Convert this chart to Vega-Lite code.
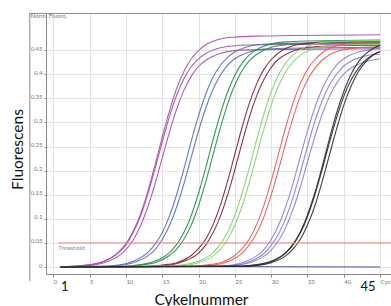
{
"$schema": "https://vega.github.io/schema/vega-lite/v6.json",
"width": 345, "height": 261,
"autosize": {"type": "none"},
"padding": {"left": 46, "top": 13, "right": 0, "bottom": 32},
"background": "white",
"config": {"view": {"stroke": null}, "font": "Lato",
 "axisX": {"labelOverlap": false, "labelBound": false, "labelFlush": false, "labelAlign": "left", "labelFontSize": 6, "labelColor": "#777", "labelPadding": 1, "tickSize": 3, "tickColor": "#888", "domainColor": "#8a8a8a", "grid": true, "gridColor": "#e3e3e3", "titleFontSize": 15.5, "titleFontWeight": "normal", "titleColor": "#111", "titleFont": "Lato", "titleX": 155, "titleY": 30, "titleBaseline": "alphabetic", "titleAlign": "center"},
 "axisY": {"labelOverlap": false, "labelBound": false, "labelFlush": false, "labelFontSize": 6, "labelColor": "#777", "labelBaseline": "alphabetic", "labelPadding": 2, "tickSize": 2, "tickColor": "#888", "domainColor": "#8a8a8a", "grid": true, "gridColor": "#e3e3e3", "titleFontSize": 15.5, "titleFontWeight": "normal", "titleColor": "#111", "titleFont": "Lato", "titleX": -23.5, "titleY": 136, "titleAngle": 270, "titleBaseline": "alphabetic", "titleAlign": "center"}},
"data": {"values": [
{"s":"n","g":"n","c":1,"v":0.001},{"s":"n","g":"n","c":20,"v":0.001},{"s":"n","g":"n","c":45,"v":0.0},
{"s":"p1","g":"p","c":1,"v":0},{"s":"p1","g":"p","c":3,"v":0.002},{"s":"p1","g":"p","c":5,"v":0.005},{"s":"p1","g":"p","c":7,"v":0.012},{"s":"p1","g":"p","c":9,"v":0.031},{"s":"p1","g":"p","c":10,"v":0.048},{"s":"p1","g":"p","c":11,"v":0.074},{"s":"p1","g":"p","c":12,"v":0.109},{"s":"p1","g":"p","c":13,"v":0.156},{"s":"p1","g":"p","c":14,"v":0.211},{"s":"p1","g":"p","c":15,"v":0.269},{"s":"p1","g":"p","c":16,"v":0.324},{"s":"p1","g":"p","c":17,"v":0.371},{"s":"p1","g":"p","c":18,"v":0.406},{"s":"p1","g":"p","c":19,"v":0.432},{"s":"p1","g":"p","c":20,"v":0.449},{"s":"p1","g":"p","c":21,"v":0.461},{"s":"p1","g":"p","c":23,"v":0.473},{"s":"p1","g":"p","c":25,"v":0.477},{"s":"p1","g":"p","c":28,"v":0.479},{"s":"p1","g":"p","c":45,"v":0.482},
{"s":"p2","g":"p","c":1,"v":0},{"s":"p2","g":"p","c":3,"v":0.002},{"s":"p2","g":"p","c":5,"v":0.004},{"s":"p2","g":"p","c":7,"v":0.012},{"s":"p2","g":"p","c":9,"v":0.030},{"s":"p2","g":"p","c":10,"v":0.046},{"s":"p2","g":"p","c":11,"v":0.071},{"s":"p2","g":"p","c":12,"v":0.105},{"s":"p2","g":"p","c":13,"v":0.150},{"s":"p2","g":"p","c":14,"v":0.203},{"s":"p2","g":"p","c":15,"v":0.259},{"s":"p2","g":"p","c":16,"v":0.312},{"s":"p2","g":"p","c":17,"v":0.357},{"s":"p2","g":"p","c":18,"v":0.391},{"s":"p2","g":"p","c":19,"v":0.416},{"s":"p2","g":"p","c":20,"v":0.432},{"s":"p2","g":"p","c":21,"v":0.443},{"s":"p2","g":"p","c":23,"v":0.455},{"s":"p2","g":"p","c":25,"v":0.459},{"s":"p2","g":"p","c":28,"v":0.461},{"s":"p2","g":"p","c":45,"v":0.463},
{"s":"p3","g":"p","c":1,"v":0},{"s":"p3","g":"p","c":3,"v":0.001},{"s":"p3","g":"p","c":5,"v":0.003},{"s":"p3","g":"p","c":7,"v":0.009},{"s":"p3","g":"p","c":9,"v":0.023},{"s":"p3","g":"p","c":10,"v":0.036},{"s":"p3","g":"p","c":11,"v":0.056},{"s":"p3","g":"p","c":12,"v":0.085},{"s":"p3","g":"p","c":13,"v":0.124},{"s":"p3","g":"p","c":14,"v":0.172},{"s":"p3","g":"p","c":15,"v":0.226},{"s":"p3","g":"p","c":16,"v":0.280},{"s":"p3","g":"p","c":17,"v":0.328},{"s":"p3","g":"p","c":18,"v":0.367},{"s":"p3","g":"p","c":19,"v":0.396},{"s":"p3","g":"p","c":20,"v":0.416},{"s":"p3","g":"p","c":21,"v":0.429},{"s":"p3","g":"p","c":23,"v":0.443},{"s":"p3","g":"p","c":25,"v":0.449},{"s":"p3","g":"p","c":28,"v":0.451},{"s":"p3","g":"p","c":45,"v":0.453},
{"s":"b1","g":"b","c":1,"v":0},{"s":"b1","g":"b","c":7,"v":0.002},{"s":"b1","g":"b","c":9,"v":0.004},{"s":"b1","g":"b","c":11,"v":0.012},{"s":"b1","g":"b","c":13,"v":0.030},{"s":"b1","g":"b","c":14,"v":0.047},{"s":"b1","g":"b","c":15,"v":0.071},{"s":"b1","g":"b","c":16,"v":0.106},{"s":"b1","g":"b","c":17,"v":0.151},{"s":"b1","g":"b","c":18,"v":0.204},{"s":"b1","g":"b","c":19,"v":0.261},{"s":"b1","g":"b","c":20,"v":0.314},{"s":"b1","g":"b","c":21,"v":0.359},{"s":"b1","g":"b","c":22,"v":0.394},{"s":"b1","g":"b","c":23,"v":0.418},{"s":"b1","g":"b","c":24,"v":0.435},{"s":"b1","g":"b","c":25,"v":0.446},{"s":"b1","g":"b","c":27,"v":0.458},{"s":"b1","g":"b","c":29,"v":0.462},{"s":"b1","g":"b","c":32,"v":0.464},{"s":"b1","g":"b","c":45,"v":0.466},
{"s":"b2","g":"b","c":1,"v":0},{"s":"b2","g":"b","c":7,"v":0.001},{"s":"b2","g":"b","c":9,"v":0.003},{"s":"b2","g":"b","c":11,"v":0.009},{"s":"b2","g":"b","c":13,"v":0.023},{"s":"b2","g":"b","c":14,"v":0.036},{"s":"b2","g":"b","c":15,"v":0.057},{"s":"b2","g":"b","c":16,"v":0.086},{"s":"b2","g":"b","c":17,"v":0.125},{"s":"b2","g":"b","c":18,"v":0.173},{"s":"b2","g":"b","c":19,"v":0.228},{"s":"b2","g":"b","c":20,"v":0.282},{"s":"b2","g":"b","c":21,"v":0.330},{"s":"b2","g":"b","c":22,"v":0.369},{"s":"b2","g":"b","c":23,"v":0.398},{"s":"b2","g":"b","c":24,"v":0.419},{"s":"b2","g":"b","c":25,"v":0.432},{"s":"b2","g":"b","c":27,"v":0.446},{"s":"b2","g":"b","c":29,"v":0.452},{"s":"b2","g":"b","c":32,"v":0.454},{"s":"b2","g":"b","c":45,"v":0.456},
{"s":"g1","g":"g","c":1,"v":0},{"s":"g1","g":"g","c":10,"v":0.002},{"s":"g1","g":"g","c":12,"v":0.005},{"s":"g1","g":"g","c":14,"v":0.012},{"s":"g1","g":"g","c":16,"v":0.030},{"s":"g1","g":"g","c":17,"v":0.047},{"s":"g1","g":"g","c":18,"v":0.072},{"s":"g1","g":"g","c":19,"v":0.107},{"s":"g1","g":"g","c":20,"v":0.153},{"s":"g1","g":"g","c":21,"v":0.206},{"s":"g1","g":"g","c":22,"v":0.264},{"s":"g1","g":"g","c":23,"v":0.317},{"s":"g1","g":"g","c":24,"v":0.363},{"s":"g1","g":"g","c":25,"v":0.398},{"s":"g1","g":"g","c":26,"v":0.423},{"s":"g1","g":"g","c":27,"v":0.440},{"s":"g1","g":"g","c":28,"v":0.451},{"s":"g1","g":"g","c":30,"v":0.463},{"s":"g1","g":"g","c":32,"v":0.467},{"s":"g1","g":"g","c":35,"v":0.469},{"s":"g1","g":"g","c":45,"v":0.471},
{"s":"g2","g":"g","c":1,"v":0},{"s":"g2","g":"g","c":10,"v":0.001},{"s":"g2","g":"g","c":12,"v":0.004},{"s":"g2","g":"g","c":14,"v":0.009},{"s":"g2","g":"g","c":16,"v":0.024},{"s":"g2","g":"g","c":17,"v":0.037},{"s":"g2","g":"g","c":18,"v":0.058},{"s":"g2","g":"g","c":19,"v":0.087},{"s":"g2","g":"g","c":20,"v":0.127},{"s":"g2","g":"g","c":21,"v":0.177},{"s":"g2","g":"g","c":22,"v":0.233},{"s":"g2","g":"g","c":23,"v":0.288},{"s":"g2","g":"g","c":24,"v":0.338},{"s":"g2","g":"g","c":25,"v":0.378},{"s":"g2","g":"g","c":26,"v":0.407},{"s":"g2","g":"g","c":27,"v":0.428},{"s":"g2","g":"g","c":28,"v":0.441},{"s":"g2","g":"g","c":30,"v":0.456},{"s":"g2","g":"g","c":32,"v":0.461},{"s":"g2","g":"g","c":35,"v":0.464},{"s":"g2","g":"g","c":45,"v":0.465},
{"s":"r1","g":"r","c":1,"v":0},{"s":"r1","g":"r","c":13,"v":0.001},{"s":"r1","g":"r","c":15,"v":0.004},{"s":"r1","g":"r","c":17,"v":0.009},{"s":"r1","g":"r","c":19,"v":0.024},{"s":"r1","g":"r","c":20,"v":0.038},{"s":"r1","g":"r","c":21,"v":0.058},{"s":"r1","g":"r","c":22,"v":0.088},{"s":"r1","g":"r","c":23,"v":0.128},{"s":"r1","g":"r","c":24,"v":0.178},{"s":"r1","g":"r","c":25,"v":0.234},{"s":"r1","g":"r","c":26,"v":0.290},{"s":"r1","g":"r","c":27,"v":0.340},{"s":"r1","g":"r","c":28,"v":0.380},{"s":"r1","g":"r","c":29,"v":0.410},{"s":"r1","g":"r","c":30,"v":0.430},{"s":"r1","g":"r","c":31,"v":0.444},{"s":"r1","g":"r","c":33,"v":0.459},{"s":"r1","g":"r","c":35,"v":0.464},{"s":"r1","g":"r","c":38,"v":0.467},{"s":"r1","g":"r","c":45,"v":0.468},
{"s":"r2","g":"r","c":1,"v":0},{"s":"r2","g":"r","c":14,"v":0.002},{"s":"r2","g":"r","c":16,"v":0.004},{"s":"r2","g":"r","c":18,"v":0.012},{"s":"r2","g":"r","c":20,"v":0.029},{"s":"r2","g":"r","c":21,"v":0.046},{"s":"r2","g":"r","c":22,"v":0.071},{"s":"r2","g":"r","c":23,"v":0.105},{"s":"r2","g":"r","c":24,"v":0.149},{"s":"r2","g":"r","c":25,"v":0.202},{"s":"r2","g":"r","c":26,"v":0.258},{"s":"r2","g":"r","c":27,"v":0.311},{"s":"r2","g":"r","c":28,"v":0.355},{"s":"r2","g":"r","c":29,"v":0.389},{"s":"r2","g":"r","c":30,"v":0.414},{"s":"r2","g":"r","c":31,"v":0.431},{"s":"r2","g":"r","c":32,"v":0.441},{"s":"r2","g":"r","c":34,"v":0.453},{"s":"r2","g":"r","c":36,"v":0.457},{"s":"r2","g":"r","c":39,"v":0.459},{"s":"r2","g":"r","c":45,"v":0.460},
{"s":"l1","g":"l","c":1,"v":0},{"s":"l1","g":"l","c":16,"v":0.002},{"s":"l1","g":"l","c":18,"v":0.005},{"s":"l1","g":"l","c":20,"v":0.012},{"s":"l1","g":"l","c":22,"v":0.030},{"s":"l1","g":"l","c":23,"v":0.047},{"s":"l1","g":"l","c":24,"v":0.072},{"s":"l1","g":"l","c":25,"v":0.107},{"s":"l1","g":"l","c":26,"v":0.153},{"s":"l1","g":"l","c":27,"v":0.206},{"s":"l1","g":"l","c":28,"v":0.264},{"s":"l1","g":"l","c":29,"v":0.317},{"s":"l1","g":"l","c":30,"v":0.363},{"s":"l1","g":"l","c":31,"v":0.398},{"s":"l1","g":"l","c":32,"v":0.423},{"s":"l1","g":"l","c":33,"v":0.440},{"s":"l1","g":"l","c":34,"v":0.451},{"s":"l1","g":"l","c":36,"v":0.463},{"s":"l1","g":"l","c":38,"v":0.467},{"s":"l1","g":"l","c":41,"v":0.469},{"s":"l1","g":"l","c":45,"v":0.470},
{"s":"l2","g":"l","c":1,"v":0},{"s":"l2","g":"l","c":16,"v":0.001},{"s":"l2","g":"l","c":18,"v":0.003},{"s":"l2","g":"l","c":20,"v":0.009},{"s":"l2","g":"l","c":22,"v":0.023},{"s":"l2","g":"l","c":23,"v":0.037},{"s":"l2","g":"l","c":24,"v":0.057},{"s":"l2","g":"l","c":25,"v":0.087},{"s":"l2","g":"l","c":26,"v":0.126},{"s":"l2","g":"l","c":27,"v":0.176},{"s":"l2","g":"l","c":28,"v":0.231},{"s":"l2","g":"l","c":29,"v":0.286},{"s":"l2","g":"l","c":30,"v":0.336},{"s":"l2","g":"l","c":31,"v":0.375},{"s":"l2","g":"l","c":32,"v":0.405},{"s":"l2","g":"l","c":33,"v":0.425},{"s":"l2","g":"l","c":34,"v":0.439},{"s":"l2","g":"l","c":36,"v":0.453},{"s":"l2","g":"l","c":38,"v":0.459},{"s":"l2","g":"l","c":41,"v":0.461},{"s":"l2","g":"l","c":45,"v":0.462},
{"s":"e1","g":"e","c":1,"v":0},{"s":"e1","g":"e","c":19,"v":0.001},{"s":"e1","g":"e","c":21,"v":0.004},{"s":"e1","g":"e","c":23,"v":0.009},{"s":"e1","g":"e","c":25,"v":0.024},{"s":"e1","g":"e","c":26,"v":0.038},{"s":"e1","g":"e","c":27,"v":0.058},{"s":"e1","g":"e","c":28,"v":0.088},{"s":"e1","g":"e","c":29,"v":0.128},{"s":"e1","g":"e","c":30,"v":0.178},{"s":"e1","g":"e","c":31,"v":0.234},{"s":"e1","g":"e","c":32,"v":0.290},{"s":"e1","g":"e","c":33,"v":0.340},{"s":"e1","g":"e","c":34,"v":0.380},{"s":"e1","g":"e","c":35,"v":0.410},{"s":"e1","g":"e","c":36,"v":0.430},{"s":"e1","g":"e","c":37,"v":0.444},{"s":"e1","g":"e","c":39,"v":0.459},{"s":"e1","g":"e","c":41,"v":0.464},{"s":"e1","g":"e","c":44,"v":0.467},{"s":"e1","g":"e","c":45,"v":0.467},
{"s":"e2","g":"e","c":1,"v":0},{"s":"e2","g":"e","c":20,"v":0.002},{"s":"e2","g":"e","c":22,"v":0.004},{"s":"e2","g":"e","c":24,"v":0.011},{"s":"e2","g":"e","c":26,"v":0.029},{"s":"e2","g":"e","c":27,"v":0.046},{"s":"e2","g":"e","c":28,"v":0.070},{"s":"e2","g":"e","c":29,"v":0.104},{"s":"e2","g":"e","c":30,"v":0.149},{"s":"e2","g":"e","c":31,"v":0.201},{"s":"e2","g":"e","c":32,"v":0.257},{"s":"e2","g":"e","c":33,"v":0.309},{"s":"e2","g":"e","c":34,"v":0.354},{"s":"e2","g":"e","c":35,"v":0.388},{"s":"e2","g":"e","c":36,"v":0.412},{"s":"e2","g":"e","c":37,"v":0.429},{"s":"e2","g":"e","c":38,"v":0.440},{"s":"e2","g":"e","c":40,"v":0.451},{"s":"e2","g":"e","c":42,"v":0.455},{"s":"e2","g":"e","c":45,"v":0.457},
{"s":"v1","g":"v","c":1,"v":0},{"s":"v1","g":"v","c":22,"v":0.001},{"s":"v1","g":"v","c":24,"v":0.003},{"s":"v1","g":"v","c":26,"v":0.009},{"s":"v1","g":"v","c":28,"v":0.023},{"s":"v1","g":"v","c":29,"v":0.036},{"s":"v1","g":"v","c":30,"v":0.057},{"s":"v1","g":"v","c":31,"v":0.086},{"s":"v1","g":"v","c":32,"v":0.125},{"s":"v1","g":"v","c":33,"v":0.173},{"s":"v1","g":"v","c":34,"v":0.228},{"s":"v1","g":"v","c":35,"v":0.282},{"s":"v1","g":"v","c":36,"v":0.330},{"s":"v1","g":"v","c":37,"v":0.369},{"s":"v1","g":"v","c":38,"v":0.398},{"s":"v1","g":"v","c":39,"v":0.419},{"s":"v1","g":"v","c":40,"v":0.432},{"s":"v1","g":"v","c":42,"v":0.446},{"s":"v1","g":"v","c":44,"v":0.452},{"s":"v1","g":"v","c":45,"v":0.453},
{"s":"v2","g":"v","c":1,"v":0},{"s":"v2","g":"v","c":23,"v":0.002},{"s":"v2","g":"v","c":25,"v":0.004},{"s":"v2","g":"v","c":27,"v":0.011},{"s":"v2","g":"v","c":29,"v":0.028},{"s":"v2","g":"v","c":30,"v":0.045},{"s":"v2","g":"v","c":31,"v":0.068},{"s":"v2","g":"v","c":32,"v":0.101},{"s":"v2","g":"v","c":33,"v":0.144},{"s":"v2","g":"v","c":34,"v":0.195},{"s":"v2","g":"v","c":35,"v":0.250},{"s":"v2","g":"v","c":36,"v":0.301},{"s":"v2","g":"v","c":37,"v":0.344},{"s":"v2","g":"v","c":38,"v":0.377},{"s":"v2","g":"v","c":39,"v":0.400},{"s":"v2","g":"v","c":40,"v":0.417},{"s":"v2","g":"v","c":41,"v":0.427},{"s":"v2","g":"v","c":43,"v":0.438},{"s":"v2","g":"v","c":45,"v":0.442},
{"s":"v3","g":"v","c":1,"v":0},{"s":"v3","g":"v","c":23,"v":0.001},{"s":"v3","g":"v","c":25,"v":0.003},{"s":"v3","g":"v","c":27,"v":0.009},{"s":"v3","g":"v","c":29,"v":0.022},{"s":"v3","g":"v","c":30,"v":0.035},{"s":"v3","g":"v","c":31,"v":0.054},{"s":"v3","g":"v","c":32,"v":0.082},{"s":"v3","g":"v","c":33,"v":0.119},{"s":"v3","g":"v","c":34,"v":0.165},{"s":"v3","g":"v","c":35,"v":0.218},{"s":"v3","g":"v","c":36,"v":0.270},{"s":"v3","g":"v","c":37,"v":0.316},{"s":"v3","g":"v","c":38,"v":0.353},{"s":"v3","g":"v","c":39,"v":0.381},{"s":"v3","g":"v","c":40,"v":0.400},{"s":"v3","g":"v","c":41,"v":0.413},{"s":"v3","g":"v","c":43,"v":0.426},{"s":"v3","g":"v","c":45,"v":0.432},
{"s":"k1","g":"k","c":1,"v":0},{"s":"k1","g":"k","c":26,"v":0.002},{"s":"k1","g":"k","c":28,"v":0.005},{"s":"k1","g":"k","c":30,"v":0.012},{"s":"k1","g":"k","c":32,"v":0.030},{"s":"k1","g":"k","c":33,"v":0.047},{"s":"k1","g":"k","c":34,"v":0.072},{"s":"k1","g":"k","c":35,"v":0.108},{"s":"k1","g":"k","c":36,"v":0.153},{"s":"k1","g":"k","c":37,"v":0.207},{"s":"k1","g":"k","c":38,"v":0.265},{"s":"k1","g":"k","c":39,"v":0.319},{"s":"k1","g":"k","c":40,"v":0.364},{"s":"k1","g":"k","c":41,"v":0.400},{"s":"k1","g":"k","c":42,"v":0.425},{"s":"k1","g":"k","c":43,"v":0.442},{"s":"k1","g":"k","c":44,"v":0.453},{"s":"k1","g":"k","c":45,"v":0.460},
{"s":"k2","g":"k","c":1,"v":0},{"s":"k2","g":"k","c":26,"v":0.001},{"s":"k2","g":"k","c":28,"v":0.003},{"s":"k2","g":"k","c":30,"v":0.009},{"s":"k2","g":"k","c":32,"v":0.023},{"s":"k2","g":"k","c":33,"v":0.037},{"s":"k2","g":"k","c":34,"v":0.057},{"s":"k2","g":"k","c":35,"v":0.087},{"s":"k2","g":"k","c":36,"v":0.126},{"s":"k2","g":"k","c":37,"v":0.176},{"s":"k2","g":"k","c":38,"v":0.231},{"s":"k2","g":"k","c":39,"v":0.286},{"s":"k2","g":"k","c":40,"v":0.336},{"s":"k2","g":"k","c":41,"v":0.375},{"s":"k2","g":"k","c":42,"v":0.405},{"s":"k2","g":"k","c":43,"v":0.425},{"s":"k2","g":"k","c":44,"v":0.439},{"s":"k2","g":"k","c":45,"v":0.447},
{"s":"k3","g":"k","c":1,"v":0},{"s":"k3","g":"k","c":26,"v":0.002},{"s":"k3","g":"k","c":28,"v":0.004},{"s":"k3","g":"k","c":30,"v":0.011},{"s":"k3","g":"k","c":32,"v":0.029},{"s":"k3","g":"k","c":33,"v":0.046},{"s":"k3","g":"k","c":34,"v":0.070},{"s":"k3","g":"k","c":35,"v":0.104},{"s":"k3","g":"k","c":36,"v":0.149},{"s":"k3","g":"k","c":37,"v":0.201},{"s":"k3","g":"k","c":38,"v":0.257},{"s":"k3","g":"k","c":39,"v":0.309},{"s":"k3","g":"k","c":40,"v":0.354},{"s":"k3","g":"k","c":41,"v":0.388},{"s":"k3","g":"k","c":42,"v":0.412},{"s":"k3","g":"k","c":43,"v":0.429},{"s":"k3","g":"k","c":44,"v":0.440},{"s":"k3","g":"k","c":45,"v":0.447}
]},
"layer": [
{"mark": {"type": "line", "interpolate": "monotone", "strokeWidth": 1.1, "strokeOpacity": 0.9},
 "encoding": {
  "x": {"field": "c", "type": "quantitative", "title": "Cykelnummer",
   "scale": {"domain": [-1, 46.5], "nice": false, "zero": false},
   "axis": {"values": [0,5,10,15,20,25,30,35,40,45], "labelExpr": "datum.value == 45 ? 'Cycle' : datum.label"}},
  "y": {"field": "v", "type": "quantitative", "title": "Fluorescens",
   "scale": {"domain": [-0.0145, 0.527], "nice": false, "zero": false},
   "axis": {"values": [0,0.05,0.1,0.15,0.2,0.25,0.3,0.35,0.4,0.45], "format": "~g"}},
  "color": {"field": "g", "type": "nominal", "legend": null,
   "scale": {"domain": ["n","p","b","g","r","l","e","v","k"],
    "range": ["#3a4a90","#a24ca6","#5868b0","#208c48","#7a2030","#86d070","#e05a5a","#8a7cd0","#2a2a2a"]}},
  "detail": {"field": "s"}}},
{"data": {"values": [{}]}, "mark": {"type": "rule", "color": "#8a8a8a", "strokeWidth": 1},
 "encoding": {"x": {"datum": -3.23, "type": "quantitative", "axis": {"values": [0,5,10,15,20,25,30,35,40,45], "labelExpr": "datum.value == 45 ? 'Cycle' : datum.label"}},
  "y": {"datum": 0.527, "type": "quantitative", "axis": {"values": [0,0.05,0.1,0.15,0.2,0.25,0.3,0.35,0.4,0.45], "format": "~g"}}, "y2": {"datum": -0.029}}},
{"data": {"values": [{}]}, "mark": {"type": "rule", "color": "#8a8a8a", "strokeWidth": 1},
 "encoding": {"x": {"datum": -3.23, "type": "quantitative", "axis": {"values": [0,5,10,15,20,25,30,35,40,45], "labelExpr": "datum.value == 45 ? 'Cycle' : datum.label"}}, "x2": {"datum": 46.5},
  "y": {"datum": 0.526, "type": "quantitative", "axis": {"values": [0,0.05,0.1,0.15,0.2,0.25,0.3,0.35,0.4,0.45], "format": "~g"}}}},
{"data": {"values": [{}]}, "mark": {"type": "rule", "color": "#e8898a", "strokeWidth": 1},
 "encoding": {"x": {"datum": 0.7, "type": "quantitative", "axis": {"values": [0,5,10,15,20,25,30,35,40,45], "labelExpr": "datum.value == 45 ? 'Cycle' : datum.label"}}, "x2": {"datum": 46.5},
  "y": {"datum": 0.05, "type": "quantitative", "axis": {"values": [0,0.05,0.1,0.15,0.2,0.25,0.3,0.35,0.4,0.45], "format": "~g"}}}},
{"data": {"values": [{}]}, "mark": {"type": "text", "text": "Threshold", "align": "left", "baseline": "top", "fontSize": 6, "color": "#888", "dy": 2},
 "encoding": {"x": {"datum": 0.7, "type": "quantitative", "axis": {"values": [0,5,10,15,20,25,30,35,40,45], "labelExpr": "datum.value == 45 ? 'Cycle' : datum.label"}},
  "y": {"datum": 0.05, "type": "quantitative", "axis": {"values": [0,0.05,0.1,0.15,0.2,0.25,0.3,0.35,0.4,0.45], "format": "~g"}}}},
{"data": {"values": [{}]}, "mark": {"type": "text", "text": "Norm. Fluoro.", "align": "left", "baseline": "middle", "fontSize": 6, "color": "#777"},
 "encoding": {"x": {"datum": -3.1, "type": "quantitative", "axis": {"values": [0,5,10,15,20,25,30,35,40,45], "labelExpr": "datum.value == 45 ? 'Cycle' : datum.label"}},
  "y": {"datum": 0.521, "type": "quantitative", "axis": {"values": [0,0.05,0.1,0.15,0.2,0.25,0.3,0.35,0.4,0.45], "format": "~g"}}}},
{"data": {"values": [{}]}, "mark": {"type": "text", "text": "1", "align": "center", "baseline": "middle", "fontSize": 13, "color": "#111", "font": "Lato"},
 "encoding": {"x": {"datum": 1.58, "type": "quantitative", "axis": {"values": [0,5,10,15,20,25,30,35,40,45], "labelExpr": "datum.value == 45 ? 'Cycle' : datum.label"}},
  "y": {"datum": -0.0405, "type": "quantitative", "axis": {"values": [0,0.05,0.1,0.15,0.2,0.25,0.3,0.35,0.4,0.45], "format": "~g"}}}},
{"data": {"values": [{}]}, "mark": {"type": "text", "text": "45", "align": "center", "baseline": "middle", "fontSize": 13, "color": "#111", "font": "Lato"},
 "encoding": {"x": {"datum": 43.33, "type": "quantitative", "axis": {"values": [0,5,10,15,20,25,30,35,40,45], "labelExpr": "datum.value == 45 ? 'Cycle' : datum.label"}},
  "y": {"datum": -0.0405, "type": "quantitative", "axis": {"values": [0,0.05,0.1,0.15,0.2,0.25,0.3,0.35,0.4,0.45], "format": "~g"}}}}
]
}
